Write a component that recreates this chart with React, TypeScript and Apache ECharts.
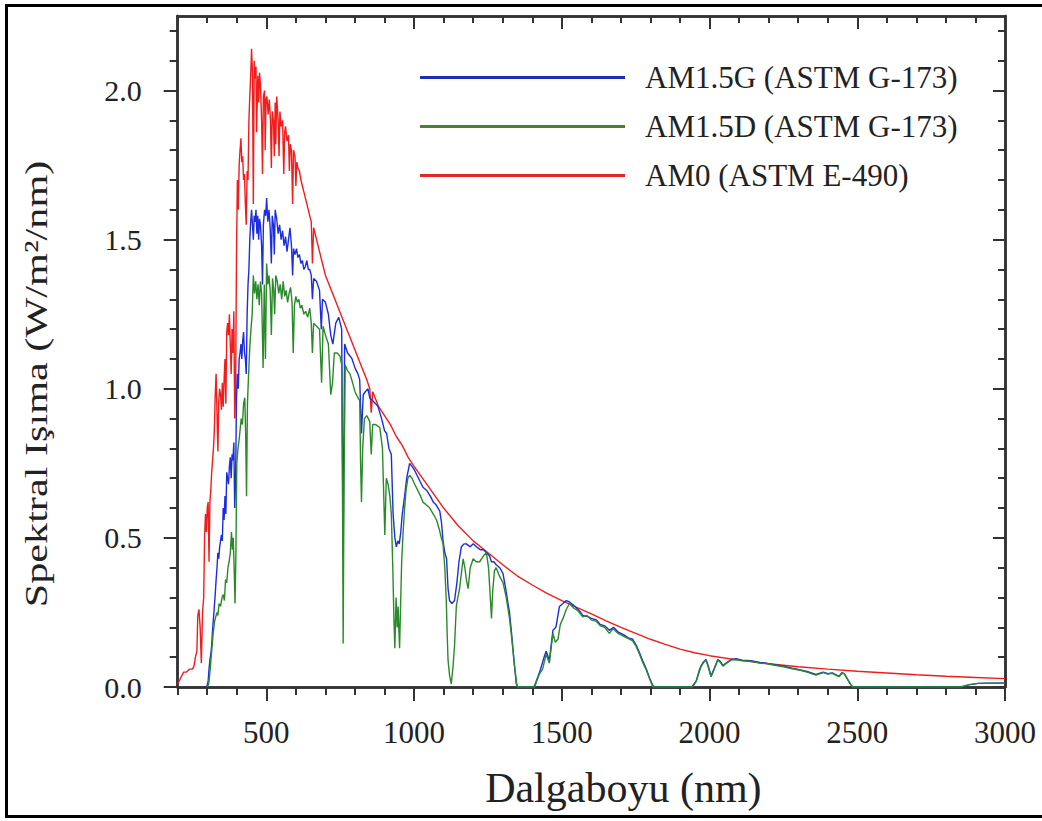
import React, { useEffect, useRef } from 'react';
import * as echarts from 'echarts';

// ---- tick values ----
const xMajor = [500, 1000, 1500, 2000, 2500, 3000];
const xMinor = [200, 300, 400, 600, 700, 800, 900, 1100, 1200, 1300, 1400, 1600, 1700, 1800, 1900, 2100, 2200, 2300, 2400, 2600, 2700, 2800, 2900];
const yMajor = [0, 0.5, 1, 1.5, 2];
const yMinor = [0.1, 0.2, 0.3, 0.4, 0.6, 0.7, 0.8, 0.9, 1.1, 1.2, 1.3, 1.4, 1.6, 1.7, 1.8, 1.9, 2.1, 2.2];

const seriesNames = ['AM1.5G (ASTM G-173)', 'AM1.5D (ASTM G-173)', 'AM0 (ASTM E-490)'];
const xTitle = 'Dalgaboyu (nm)';
const yTitle = 'Spektral Işıma (W/m²/nm)';

// ---- AM0 (ASTM E-490), [nm, W/m2/nm] ----
const am0 = [
  [200, 0.01], [210, 0.03], [220, 0.05], [230, 0.05], [240, 0.06], [250, 0.06], [255, 0.07], [260, 0.1],
  [265, 0.12], [268, 0.24], [272, 0.26], [276, 0.2], [280, 0.08], [284, 0.25], [288, 0.3], [291, 0.5],
  [294, 0.58], [297, 0.52], [300, 0.6], [303, 0.62], [306, 0.42], [309, 0.62], [312, 0.66], [315, 0.72],
  [318, 0.76], [321, 0.8], [324, 0.86], [327, 0.98], [330, 1.05], [333, 0.92], [336, 0.79], [339, 0.96],
  [342, 1.0], [345, 0.98], [348, 0.93], [351, 1.02], [354, 0.94], [357, 1.03], [360, 1.1], [363, 0.95],
  [366, 1.19], [369, 1.22], [372, 1.18], [375, 1.25], [378, 1.15], [381, 1.05], [384, 1.2], [387, 1.12],
  [390, 1.26], [393, 0.9], [396, 1.0], [399, 1.45], [402, 1.7], [405, 1.6], [408, 1.75], [411, 1.8],
  [414, 1.84], [417, 1.76], [420, 1.78], [423, 1.7], [426, 1.72], [429, 1.62], [432, 1.55], [435, 1.73],
  [438, 1.7], [441, 1.9], [444, 1.98], [447, 2.05], [450, 2.14], [453, 2.06], [456, 1.62], [459, 2.1],
  [462, 2.04], [465, 2.08], [467, 1.86], [471, 2.05], [474, 1.96], [477, 2.06], [480, 2.02], [484, 1.9],
  [487, 1.72], [490, 1.98], [494, 2.0], [496, 1.8], [499, 1.97], [502, 1.98], [506, 1.92], [510, 1.97],
  [514, 1.9], [517, 1.74], [520, 1.93], [524, 1.9], [527, 1.78], [530, 1.96], [532, 1.82], [535, 1.98],
  [540, 1.9], [543, 1.78], [546, 1.93], [550, 1.88], [555, 1.9], [559, 1.72], [562, 1.86], [565, 1.88],
  [570, 1.83], [575, 1.85], [578, 1.73], [581, 1.82], [585, 1.8], [589, 1.62], [592, 1.8], [597, 1.78],
  [600, 1.68], [603, 1.76], [607, 1.74], [612, 1.73], [617, 1.7], [622, 1.68], [627, 1.66], [632, 1.64],
  [637, 1.62], [642, 1.6], [647, 1.58], [652, 1.56], [656, 1.42], [660, 1.54], [670, 1.5], [680, 1.46],
  [690, 1.42], [700, 1.38], [720, 1.33], [740, 1.28], [760, 1.23], [780, 1.18], [800, 1.13], [820, 1.08],
  [840, 1.03], [850, 1.0], [855, 0.92], [860, 0.99], [880, 0.94], [900, 0.91], [920, 0.88], [940, 0.84],
  [960, 0.81], [980, 0.77], [1000, 0.74], [1050, 0.67], [1100, 0.6], [1150, 0.54], [1200, 0.49],
  [1250, 0.45], [1300, 0.41], [1350, 0.372], [1400, 0.342], [1450, 0.314], [1500, 0.29], [1550, 0.267],
  [1600, 0.245], [1650, 0.222], [1700, 0.2], [1750, 0.18], [1800, 0.16], [1850, 0.143], [1900, 0.127],
  [1950, 0.115], [2000, 0.105], [2100, 0.09], [2200, 0.078], [2300, 0.068], [2400, 0.06], [2500, 0.053],
  [2600, 0.047], [2700, 0.041], [2800, 0.036], [2900, 0.032], [3000, 0.028],
];

// ---- AM1.5G (global tilt) ----
const am15g = [
  [295, 0], [300, 0.005], [303, 0.02], [306, 0.06], [309, 0.09], [312, 0.11], [315, 0.14], [318, 0.19],
  [321, 0.23], [324, 0.27], [327, 0.31], [330, 0.36], [333, 0.4], [336, 0.45], [339, 0.43], [342, 0.47],
  [345, 0.49], [348, 0.51], [351, 0.49], [354, 0.6], [357, 0.56], [360, 0.64], [363, 0.58], [366, 0.72],
  [369, 0.7], [372, 0.68], [375, 0.74], [378, 0.77], [381, 0.7], [384, 0.78], [387, 0.76], [390, 0.82],
  [393, 0.6], [396, 0.7], [399, 0.97], [402, 1.05], [405, 1.0], [408, 1.1], [411, 1.12], [414, 1.15],
  [417, 1.1], [420, 1.16], [423, 1.19], [426, 1.12], [429, 1.1], [432, 1.05], [435, 1.25], [438, 1.35],
  [441, 1.4], [444, 1.5], [447, 1.56], [450, 1.6], [453, 1.55], [456, 1.5], [459, 1.58], [462, 1.56],
  [465, 1.6], [468, 1.52], [471, 1.58], [474, 1.5], [477, 1.57], [480, 1.55], [484, 1.48], [487, 1.35],
  [490, 1.55], [494, 1.6], [498, 1.58], [501, 1.64], [505, 1.56], [509, 1.6], [513, 1.54], [517, 1.42],
  [520, 1.58], [524, 1.55], [527, 1.45], [530, 1.6], [535, 1.57], [540, 1.52], [545, 1.55], [550, 1.5],
  [555, 1.53], [560, 1.48], [565, 1.51], [570, 1.46], [575, 1.5], [580, 1.54], [585, 1.48], [589, 1.38],
  [592, 1.47], [597, 1.45], [602, 1.47], [607, 1.44], [612, 1.45], [617, 1.42], [622, 1.43], [627, 1.4],
  [632, 1.41], [637, 1.43], [642, 1.4], [647, 1.4], [652, 1.38], [656, 1.3], [660, 1.37], [670, 1.36],
  [680, 1.33], [686, 1.2], [690, 1.3], [700, 1.29], [710, 1.25], [718, 1.18], [725, 1.15], [735, 1.22],
  [745, 1.24], [755, 1.2], [760, 0.45], [765, 1.15], [775, 1.12], [783, 1.11], [790, 1.1], [800, 1.07],
  [810, 1.05], [816, 1.03], [822, 0.85], [828, 0.98], [835, 0.99], [844, 1.0], [850, 0.97], [860, 0.96],
  [870, 0.95], [878, 0.94], [890, 0.9], [900, 0.86], [907, 0.85], [915, 0.8], [923, 0.78], [929, 0.58],
  [935, 0.5], [940, 0.47], [945, 0.49], [950, 0.48], [955, 0.52], [960, 0.58], [968, 0.64], [975, 0.7],
  [985, 0.75], [993, 0.74], [1000, 0.73], [1010, 0.71], [1020, 0.69], [1030, 0.67], [1042, 0.66],
  [1055, 0.64], [1065, 0.62], [1075, 0.61], [1087, 0.59], [1093, 0.55], [1098, 0.49], [1104, 0.45],
  [1110, 0.43], [1115, 0.33], [1120, 0.29], [1128, 0.28], [1137, 0.29], [1145, 0.35], [1152, 0.42],
  [1160, 0.47], [1170, 0.48], [1177, 0.48], [1190, 0.47], [1200, 0.48], [1211, 0.47], [1225, 0.46],
  [1235, 0.46], [1245, 0.45], [1255, 0.44], [1262, 0.42], [1270, 0.42], [1278, 0.41], [1290, 0.4],
  [1301, 0.38], [1310, 0.33], [1318, 0.28], [1323, 0.25], [1330, 0.18], [1338, 0.09], [1346, 0.01],
  [1352, 0], [1405, 0], [1410, 0.01], [1425, 0.05], [1440, 0.1], [1447, 0.12], [1458, 0.09], [1470, 0.19],
  [1480, 0.2], [1492, 0.27], [1504, 0.28], [1515, 0.29], [1526, 0.285], [1545, 0.27], [1560, 0.255],
  [1571, 0.24], [1590, 0.235], [1600, 0.23], [1617, 0.225], [1630, 0.21], [1645, 0.205], [1661, 0.19],
  [1675, 0.2], [1690, 0.185], [1710, 0.175], [1725, 0.165], [1740, 0.16], [1752, 0.14], [1763, 0.115],
  [1775, 0.085], [1786, 0.06], [1797, 0.03], [1808, 0.005], [1815, 0], [1940, 0], [1955, 0.02],
  [1965, 0.055], [1971, 0.07], [1980, 0.085], [1988, 0.092], [1996, 0.07], [2005, 0.037], [2015, 0.06],
  [2028, 0.092], [2037, 0.085], [2045, 0.072], [2058, 0.082], [2073, 0.092], [2090, 0.095], [2110, 0.09],
  [2140, 0.088], [2170, 0.082], [2191, 0.08], [2220, 0.075], [2250, 0.07], [2280, 0.063], [2304, 0.058],
  [2330, 0.052], [2360, 0.042], [2385, 0.05], [2400, 0.045], [2416, 0.047], [2430, 0.04], [2439, 0.036],
  [2448, 0.048], [2456, 0.045], [2468, 0.025], [2478, 0.008], [2485, 0], [2850, 0], [2880, 0.008],
  [2910, 0.012], [2950, 0.013], [3000, 0.014],
];

// ---- AM1.5D (direct + circumsolar) ----
const am15d = [
  [300, 0], [305, 0.01], [310, 0.06], [315, 0.12], [320, 0.18], [325, 0.22], [330, 0.24], [333, 0.25],
  [336, 0.24], [340, 0.28], [345, 0.27], [350, 0.3], [354, 0.31], [358, 0.29], [362, 0.36], [366, 0.35],
  [370, 0.4], [374, 0.42], [378, 0.45], [382, 0.52], [385, 0.46], [388, 0.5], [391, 0.4], [394, 0.28],
  [397, 0.45], [400, 0.75], [404, 0.8], [408, 0.83], [411, 0.86], [415, 0.9], [419, 0.88], [423, 0.95],
  [427, 0.97], [430, 0.85], [433, 0.64], [436, 0.95], [440, 1.05], [444, 1.14], [448, 1.2], [452, 1.25],
  [456, 1.38], [460, 1.32], [464, 1.36], [468, 1.3], [472, 1.35], [476, 1.28], [480, 1.36], [484, 1.32],
  [489, 1.07], [493, 1.35], [497, 1.1], [501, 1.42], [505, 1.35], [509, 1.38], [513, 1.33], [517, 1.18],
  [521, 1.37], [525, 1.33], [528, 1.25], [532, 1.38], [537, 1.36], [542, 1.32], [547, 1.35], [552, 1.3],
  [557, 1.36], [562, 1.31], [567, 1.33], [572, 1.29], [577, 1.32], [582, 1.34], [587, 1.29], [591, 1.12],
  [595, 1.28], [600, 1.31], [605, 1.29], [610, 1.3], [615, 1.27], [620, 1.28], [627, 1.25], [633, 1.26],
  [640, 1.24], [647, 1.27], [652, 1.22], [656, 1.12], [660, 1.22], [670, 1.21], [680, 1.2], [687, 1.02],
  [692, 1.21], [700, 1.18], [710, 1.15], [718, 0.98], [724, 1.02], [730, 1.12], [740, 1.12], [749, 1.11],
  [755, 1.08], [758, 0.6], [760, 0.146], [763, 0.7], [767, 1.08], [775, 1.06], [783, 1.05], [792, 1.02],
  [800, 0.99], [810, 0.97], [816, 0.96], [819, 0.75], [822, 0.62], [826, 0.8], [832, 0.9], [840, 0.91],
  [850, 0.89], [855, 0.78], [860, 0.88], [870, 0.88], [884, 0.87], [893, 0.8], [901, 0.51], [906, 0.7],
  [912, 0.68], [918, 0.64], [923, 0.58], [928, 0.4], [932, 0.22], [935, 0.13], [939, 0.3], [943, 0.2],
  [946, 0.27], [949, 0.18], [951, 0.13], [955, 0.3], [958, 0.42], [963, 0.52], [968, 0.6], [973, 0.66],
  [979, 0.7], [985, 0.71], [993, 0.7], [1002, 0.68], [1012, 0.66], [1022, 0.64], [1030, 0.62],
  [1042, 0.61], [1053, 0.6], [1065, 0.58], [1076, 0.56], [1085, 0.53], [1092, 0.5], [1098, 0.48],
  [1104, 0.4], [1109, 0.29], [1112, 0.18], [1115, 0.09], [1120, 0.04], [1126, 0.01], [1132, 0.07],
  [1137, 0.14], [1143, 0.27], [1148, 0.3], [1154, 0.33], [1160, 0.38], [1166, 0.43], [1172, 0.4],
  [1177, 0.36], [1183, 0.33], [1190, 0.4], [1200, 0.43], [1210, 0.42], [1222, 0.42], [1235, 0.44],
  [1245, 0.45], [1252, 0.4], [1258, 0.3], [1262, 0.23], [1266, 0.32], [1272, 0.39], [1278, 0.4],
  [1290, 0.37], [1301, 0.35], [1312, 0.3], [1323, 0.23], [1332, 0.15], [1340, 0.07], [1349, 0],
  [1408, 0], [1415, 0.02], [1425, 0.045], [1435, 0.06], [1447, 0.11], [1458, 0.08], [1465, 0.14],
  [1470, 0.18], [1478, 0.15], [1487, 0.16], [1495, 0.21], [1504, 0.23], [1515, 0.26], [1526, 0.28],
  [1540, 0.265], [1555, 0.255], [1571, 0.235], [1585, 0.24], [1600, 0.225], [1617, 0.22], [1630, 0.205],
  [1645, 0.2], [1661, 0.18], [1673, 0.195], [1690, 0.18], [1710, 0.17], [1725, 0.162], [1740, 0.155],
  [1752, 0.135], [1763, 0.11], [1775, 0.08], [1786, 0.057], [1797, 0.028], [1808, 0], [1943, 0],
  [1955, 0.02], [1965, 0.05], [1971, 0.068], [1980, 0.082], [1988, 0.09], [1996, 0.065], [2005, 0.034],
  [2015, 0.058], [2028, 0.09], [2037, 0.082], [2045, 0.07], [2058, 0.08], [2073, 0.09], [2090, 0.092],
  [2110, 0.088], [2140, 0.086], [2170, 0.08], [2191, 0.079], [2220, 0.073], [2250, 0.068], [2280, 0.061],
  [2304, 0.057], [2330, 0.05], [2360, 0.04], [2385, 0.048], [2400, 0.043], [2416, 0.046], [2430, 0.038],
  [2439, 0.035], [2448, 0.046], [2456, 0.045], [2468, 0.024], [2478, 0.008], [2484, 0], [2850, 0],
  [2880, 0.008], [2910, 0.012], [2950, 0.013], [3000, 0.013],
];

const FONT = "'Liberation Serif', 'Times New Roman', serif";
const FRAME = '#333333';
const TXT = '#222222';

function xAxisDef(position: 'top' | 'bottom', ticks: number[], len: number, inside: boolean, labels: boolean, extra: any = {}) {
  return {
    type: 'value', position, min: 200, max: 3000, gridIndex: 0,
    axisLine: { show: true, onZero: false, lineStyle: { color: FRAME, width: 2.5 } },
    axisTick: { show: true, inside, length: len, customValues: ticks, lineStyle: { color: FRAME, width: 2 } },
    axisLabel: labels
      ? { show: true, customValues: xMajor, margin: 30, fontFamily: FONT, fontSize: 31, color: TXT, formatter: (v: number) => String(v) }
      : { show: false },
    splitLine: { show: false },
    ...extra,
  };
}

function yAxisDef(position: 'left' | 'right', ticks: number[], len: number, inside: boolean, labels: boolean) {
  return {
    type: 'value', position, min: 0, max: 2.25, gridIndex: 0,
    axisLine: { show: true, onZero: false, lineStyle: { color: FRAME, width: 2.5 } },
    axisTick: { show: true, inside, length: len, customValues: ticks, lineStyle: { color: FRAME, width: 2 } },
    axisLabel: labels
      ? { show: true, customValues: yMajor, margin: 36, fontFamily: FONT, fontSize: 30, color: TXT, formatter: (v: number) => v.toFixed(1) }
      : { show: false },
    splitLine: { show: false },
  };
}

export default function App() {
  const ref = useRef<HTMLDivElement>(null);
  useEffect(() => {
    const chart = echarts.init(ref.current!, null, { renderer: 'svg' });
    const option: any = {
      animation: false,
      backgroundColor: '#ffffff',
      grid: { left: 177.7, right: 37, top: 16, bottom: 134, containLabel: false },
      xAxis: [
        xAxisDef('bottom', xMajor, 14, false, true, {
          name: xTitle, nameLocation: 'middle', nameGap: 80,
          nameTextStyle: { fontFamily: FONT, fontSize: 42, color: TXT, padding: [0, 0, 0, 64] },
        }),
        xAxisDef('bottom', xMinor, 8, false, false),
        xAxisDef('top', xMajor, 13, true, false),
        xAxisDef('top', xMinor, 7, true, false),
      ],
      yAxis: [
        yAxisDef('left', yMajor, 14, false, true),
        yAxisDef('left', yMinor, 8, false, false),
        yAxisDef('right', yMajor, 12, true, false),
        yAxisDef('right', yMinor, 7, true, false),
      ],
      legend: {
        data: seriesNames,
        orient: 'vertical',
        left: 415,
        top: 57,
        icon: 'rect',
        itemWidth: 205,
        itemHeight: 3,
        itemGap: 18,
        textStyle: { fontFamily: FONT, fontSize: 31, color: TXT, lineHeight: 30, padding: [0, 0, 0, 15] },
      },
      graphic: [
        {
          type: 'text', silent: true, z: 100,
          x: 36, y: 384, rotation: Math.PI / 2, scaleX: 1.32, scaleY: 1,
          style: {
            text: yTitle, fontFamily: FONT, fontSize: 32, fill: TXT,
            textAlign: 'center', textVerticalAlign: 'middle',
          },
        },
        {
          type: 'rect', silent: true, z: 100,
          shape: { x: 6.5, y: 5.5, width: 1040, height: 811 },
          style: { fill: 'none', stroke: '#000000', lineWidth: 3 },
        },
      ],
      series: [
        {
          name: seriesNames[2], type: 'line', data: am0, xAxisIndex: 0, yAxisIndex: 0, z: 2,
          showSymbol: false, symbol: 'none', lineStyle: { color: '#f31c1c', width: 1.4 }, itemStyle: { color: '#e0282c' },
        },
        {
          name: seriesNames[0], type: 'line', data: am15g, xAxisIndex: 0, yAxisIndex: 0, z: 3,
          showSymbol: false, symbol: 'none', lineStyle: { color: '#1c2de0', width: 1.4 }, itemStyle: { color: '#1c2db8' },
        },
        {
          name: seriesNames[1], type: 'line', data: am15d, xAxisIndex: 0, yAxisIndex: 0, z: 4,
          showSymbol: false, symbol: 'none', lineStyle: { color: '#2a8a2a', width: 1.4 }, itemStyle: { color: '#4f7f35' },
        },
      ],
    };
    chart.setOption(option);
    return () => chart.dispose();
  }, []);
  return (
    <div
      ref={ref}
      style={{ position: 'absolute', left: 0, top: 0, width: 1042, height: 821, background: '#ffffff' }}
    />
  );
}
